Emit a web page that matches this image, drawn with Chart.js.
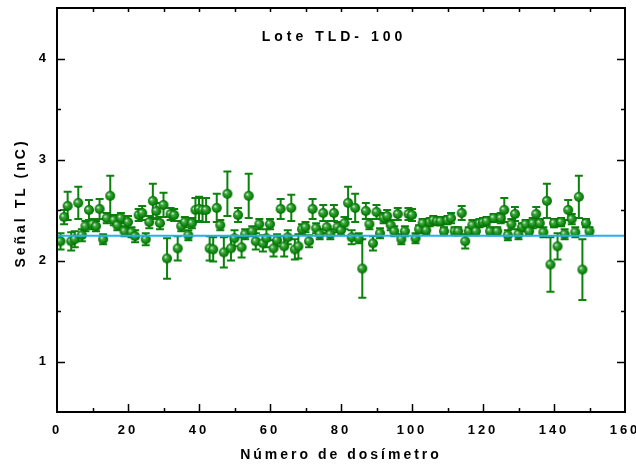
<!DOCTYPE html>
<html>
<head>
<meta charset="utf-8">
<script src="https://cdn.jsdelivr.net/npm/chart.js@4"></script>
<style>
  html, body { margin: 0; padding: 0; background: #fff; }
  #wrap { width: 636px; height: 465px; }
</style>
</head>
<body>
<div id="wrap"><canvas id="tld"></canvas></div>
<script>
// TL signal (nC) per dosimeter
const signal = [
  2.19, 2.43, 2.54, 2.19, 2.21, 2.57, 2.25, 2.34, 2.50, 2.36,
  2.34, 2.51, 2.21, 2.42, 2.64, 2.40, 2.35, 2.42, 2.29, 2.38,
  2.28, 2.24, 2.45, 2.47, 2.21, 2.38, 2.59, 2.49, 2.37, 2.55,
  2.02, 2.46, 2.45, 2.12, 2.34, 2.38, 2.25, 2.37, 2.50, 2.51,
  2.50, 2.50, 2.12, 2.11, 2.52, 2.35, 2.08, 2.66, 2.12, 2.22,
  2.45, 2.13, 2.26, 2.64, 2.29, 2.19, 2.36, 2.17, 2.22, 2.36,
  2.12, 2.20, 2.51, 2.14, 2.23, 2.52, 2.11, 2.14, 2.31, 2.33,
  2.19, 2.51, 2.32, 2.26, 2.47, 2.33, 2.26, 2.47, 2.33, 2.30,
  2.37, 2.57, 2.23, 2.52, 2.22, 1.92, 2.49, 2.36, 2.17, 2.48,
  2.27, 2.42, 2.44, 2.35, 2.29, 2.46, 2.21, 2.29, 2.46, 2.45,
  2.22, 2.31, 2.37, 2.30, 2.38, 2.40, 2.39, 2.39, 2.29, 2.40,
  2.42, 2.29, 2.29, 2.47, 2.19, 2.29, 2.35, 2.29, 2.37, 2.38,
  2.39, 2.29, 2.42, 2.29, 2.42, 2.50, 2.25, 2.36, 2.46, 2.26,
  2.33, 2.36, 2.29, 2.37, 2.46, 2.37, 2.28, 2.59, 1.96, 2.37,
  2.14, 2.38, 2.26, 2.50, 2.41, 2.28, 2.63, 1.91, 2.37, 2.29
];
// half-length of each error bar (nC)
const errors = [
  0.08, 0.07, 0.14, 0.09, 0.08, 0.16, 0.06, 0.05, 0.10, 0.05,
  0.05, 0.10, 0.05, 0.05, 0.20, 0.05, 0.05, 0.05, 0.05, 0.06,
  0.05, 0.06, 0.06, 0.07, 0.06, 0.06, 0.17, 0.08, 0.06, 0.12,
  0.20, 0.06, 0.06, 0.12, 0.05, 0.05, 0.05, 0.05, 0.12, 0.12,
  0.12, 0.12, 0.12, 0.12, 0.14, 0.05, 0.15, 0.22, 0.12, 0.08,
  0.07, 0.10, 0.05, 0.22, 0.05, 0.08, 0.05, 0.08, 0.09, 0.05,
  0.08, 0.06, 0.10, 0.10, 0.07, 0.13, 0.10, 0.12, 0.05, 0.05,
  0.06, 0.10, 0.05, 0.05, 0.08, 0.06, 0.05, 0.08, 0.05, 0.05,
  0.06, 0.16, 0.07, 0.14, 0.05, 0.29, 0.08, 0.05, 0.07, 0.07,
  0.05, 0.05, 0.06, 0.05, 0.05, 0.06, 0.05, 0.05, 0.06, 0.06,
  0.05, 0.04, 0.04, 0.04, 0.04, 0.04, 0.04, 0.04, 0.04, 0.04,
  0.05, 0.04, 0.04, 0.07, 0.07, 0.04, 0.05, 0.04, 0.04, 0.04,
  0.04, 0.04, 0.04, 0.04, 0.05, 0.12, 0.05, 0.05, 0.07, 0.05,
  0.04, 0.04, 0.04, 0.05, 0.07, 0.04, 0.05, 0.17, 0.27, 0.04,
  0.13, 0.04, 0.05, 0.10, 0.05, 0.05, 0.21, 0.30, 0.04, 0.04
];
const dosimeters = signal.map((_, i) => i + 1);
const meanLevel = 2.245;
const meanRange = [0, 160];
const xTicks = [0, 20, 40, 60, 80, 100, 120, 140, 160];
const yTicks = [1, 2, 3, 4];

const GREEN = '#0b820b';
const FONT = '"Liberation Sans", Arial, sans-serif';

function makeBall(r) {
  const c = document.createElement('canvas');
  c.width = c.height = 2 * r + 2;
  const g = c.getContext('2d');
  const cx = r + 1, cy = r + 1;
  const grad = g.createRadialGradient(cx - r * 0.35, cy - r * 0.35, 0.3, cx, cy, r);
  grad.addColorStop(0, '#d8f0d8');
  grad.addColorStop(0.3, '#3ea83e');
  grad.addColorStop(0.75, '#0c840c');
  grad.addColorStop(1, '#066a06');
  g.fillStyle = grad;
  g.beginPath();
  g.arc(cx, cy, r, 0, Math.PI * 2);
  g.fill();
  return c;
}

const errorBars = {
  id: 'errorBars',
  beforeDatasetsDraw(chart) {
    const { ctx, scales: { x, y } } = chart;
    ctx.save();
    ctx.strokeStyle = GREEN;
    ctx.lineWidth = 2;
    signal.forEach((v, i) => {
      const px = x.getPixelForValue(dosimeters[i]);
      const top = y.getPixelForValue(v + errors[i]);
      const bot = y.getPixelForValue(v - errors[i]);
      ctx.beginPath();
      ctx.moveTo(px, top); ctx.lineTo(px, bot);
      ctx.moveTo(px - 4, top); ctx.lineTo(px + 4, top);
      ctx.moveTo(px - 4, bot); ctx.lineTo(px + 4, bot);
      ctx.stroke();
    });
    ctx.restore();
  }
};

// frame, inward ticks, inner title and the y-axis title
const frame = {
  id: 'frame',
  beforeDraw(chart) {
    chart.ctx.letterSpacing = '3px';
  },
  afterDraw(chart) {
    const { ctx, chartArea: a, scales: { x, y } } = chart;
    ctx.save();
    ctx.strokeStyle = '#000';
    ctx.lineWidth = 2;
    ctx.strokeRect(a.left, a.top, a.right - a.left, a.bottom - a.top);
    ctx.lineWidth = 1.5;
    ctx.beginPath();
    for (let v = 10; v < 160; v += 10) {
      const px = Math.round(x.getPixelForValue(v)) + 0.5;
      const len = v % 20 === 0 ? 8 : 4;
      ctx.moveTo(px, a.bottom); ctx.lineTo(px, a.bottom - len);
      ctx.moveTo(px, a.top); ctx.lineTo(px, a.top + 4);
    }
    for (let v = 1; v <= 4; v += 0.5) {
      const py = Math.round(y.getPixelForValue(v)) + 0.5;
      const len = Number.isInteger(v) ? 8 : 4;
      ctx.moveTo(a.left, py); ctx.lineTo(a.left + len, py);
      ctx.moveTo(a.right, py); ctx.lineTo(a.right - len, py);
    }
    ctx.stroke();
    ctx.fillStyle = '#000';
    ctx.textAlign = 'center';
    ctx.textBaseline = 'middle';
    ctx.font = 'bold 14px ' + FONT;
    ctx.letterSpacing = '4px';
    ctx.fillText('Lote TLD- 100', 334, 37);
    ctx.letterSpacing = '3px';
    ctx.translate(21, 203);
    ctx.rotate(-Math.PI / 2);
    ctx.fillText('Señal TL (nC)', 0, 0);
    ctx.restore();
    ctx.letterSpacing = '0px';
  }
};

new Chart(document.getElementById('tld'), {
  type: 'scatter',
  data: {
    datasets: [
      {
        label: 'Señal TL',
        data: dosimeters.map((d, i) => ({ x: d, y: signal[i] })),
        pointStyle: makeBall(5),
        pointRadius: 5,
        order: 1
      },
      {
        label: 'Media',
        type: 'line',
        data: meanRange.map(d => ({ x: d, y: meanLevel })),
        borderColor: '#27aef0',
        borderWidth: 2,
        pointRadius: 0,
        order: 0
      }
    ]
  },
  options: {
    responsive: true,
    maintainAspectRatio: false,
    animation: false,
    events: [],
    layout: { padding: { top: 8, right: 11, left: 0, bottom: 0 } },
    plugins: {
      legend: { display: false },
      tooltip: { enabled: false }
    },
    scales: {
      x: {
        type: 'linear',
        min: 0,
        max: 160,
        afterBuildTicks: s => { s.ticks = xTicks.map(v => ({ value: v })); },
        grid: { display: false, drawTicks: false },
        border: { display: false },
        ticks: {
          color: '#000',
          padding: 11,
          maxRotation: 0,
          autoSkip: false,
          font: { family: FONT, size: 13, weight: 'bold' }
        },
        title: {
          display: true,
          text: 'Número de dosímetro',
          color: '#000',
          padding: { top: 4, bottom: 1 },
          font: { family: FONT, size: 14, weight: 'bold' }
        },
        afterFit: s => { s.height = 53; s.paddingLeft = 0; s.paddingRight = 0; }
      },
      y: {
        min: 0.5,
        max: 4.5,
        afterBuildTicks: s => { s.ticks = yTicks.map(v => ({ value: v })); },
        grid: { display: false, drawTicks: false },
        border: { display: false },
        ticks: {
          color: '#000',
          padding: 8,
          font: { family: FONT, size: 13, weight: 'bold' }
        },
        title: { display: false },
        afterFit: s => { s.width = 57; s.paddingTop = 0; s.paddingBottom = 0; }
      }
    }
  },
  plugins: [errorBars, frame]
});
</script>
</body>
</html>
